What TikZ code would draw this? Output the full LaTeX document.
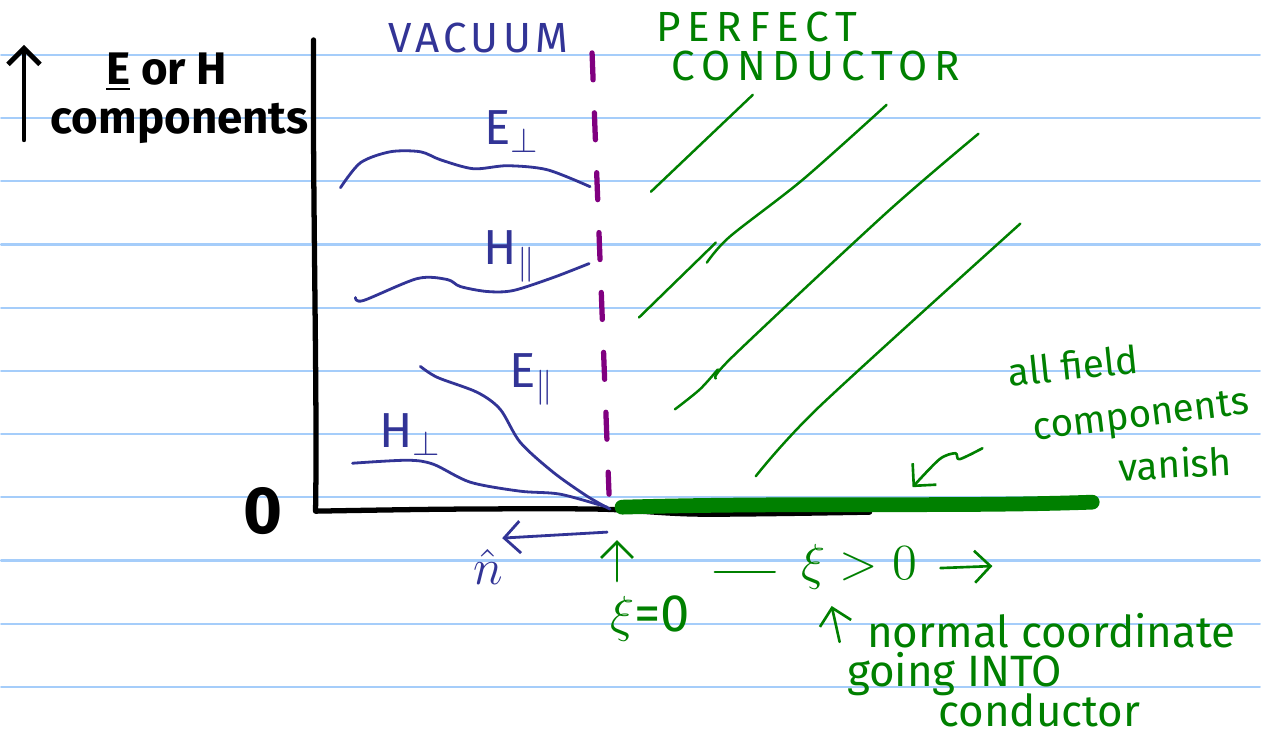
\documentclass[tikz,border=0pt]{standalone}
\usepackage{fontspec}
\setmainfont{Fira Sans}
\usetikzlibrary{arrows.meta,positioning,calc}
\definecolor{RuleBlue}{RGB}{165,205,250}
\definecolor{InkBlue}{RGB}{50,52,150}
\definecolor{InkGreen}{RGB}{0,128,0}
\definecolor{InkPurple}{RGB}{128,0,128}

\begin{document}
\begin{tikzpicture}[x=0.01cm, y=-0.01cm, line cap=round, line join=round,
    blueink/.style={InkBlue, line width=0.8pt},
    hatchline/.style={InkGreen, line width=0.7pt},
    bluetext/.style={InkBlue, inner sep=0pt, font=\fontsize{14}{16}\selectfont},
    greentext/.style={InkGreen, inner sep=0pt, font=\fontsize{12.5}{14}\selectfont},
    notetext/.style={InkGreen, inner sep=0pt, font=\fontsize{11}{13}\selectfont},
    capstext/.style={inner sep=0pt, font=\fontsize{12}{14}\selectfont\addfontfeature{LetterSpace=16}},
    barb/.style={-{Straight Barb[length=1.6mm,width=3.2mm]}}]
  % ruled paper
  \fill[white] (0,0) rectangle (1261,736);
  \foreach \k in {0,...,10}
    \draw[RuleBlue, line width=0.6pt] (0,{55+63.3*\k}) -- (1261,{55+63.3*\k});
  \useasboundingbox (0,0) rectangle (1261,736);

  % axes
  \coordinate (ytop) at (313,40);
  \coordinate (orig) at (315,512);
  \draw[line width=1.5pt] (ytop) .. controls (312,200) and (317,400) .. (orig)
    plot[smooth] coordinates {(orig) (450,510) (600,510) (700,515) (870,513)};
  \node[font=\fontsize{19}{21}\selectfont\bfseries, inner sep=0pt] (zero) at (262,512) {0};

  % axis label
  \node[inner sep=0pt, font=\fontsize{13}{15}\selectfont\bfseries] (eorh) at (166,72) {\underline{E} or H};
  \node[inner sep=0pt, font=\fontsize{13}{15}\selectfont\bfseries] (comps) at (179,124) {components};
  \coordinate (upbot) at (23,140);
  \coordinate (uptop) at (23,45);
  \draw[line width=1.4pt, barb] (upbot) -- (uptop);

  % region labels
  \node[capstext, InkBlue, font=\fontsize{12}{14}\selectfont\addfontfeature{LetterSpace=10}] (vacuum) at (478,38) {VACUUM};
  \node[capstext, InkGreen] (perfect) at (757,27) {PERFECT};
  \node[capstext, InkGreen] (conductor) at (816,66) {CONDUCTOR};

  % conductor surface and interface
  \draw[InkGreen, line width=4.2pt] (622,508) .. controls (800,503) and (950,508) .. (1093,503);
  \draw[InkPurple, line width=1.5pt, dash pattern=on 0.27cm off 0.33cm] (592,53) -- (609,495);

  % hatching of the conductor
  \draw[hatchline] (651,192) -- (753,95);
  \draw[hatchline] plot[smooth] coordinates {(707,263) (730,237) (803,180) (887,105)};
  \draw[hatchline] (639,318) -- (716,243);
  \draw[hatchline] plot[smooth] coordinates {(716,379) (733,357) (887,213) (979,134)};
  \draw[hatchline] plot[smooth] coordinates {(675,410) (700,390) (718,370)};
  \draw[hatchline] plot[smooth] coordinates {(756,477) (820,407) (1021,224)};

  % field components in the vacuum
  \draw[blueink] plot[smooth] coordinates {(340,188) (360,163) (390,152) (420,152) (440,160)
    (473,169) (507,166) (547,170) (590,187)};
  \draw[blueink] plot[smooth] coordinates {(355,298) (363,301) (417,279) (447,280) (460,287)
    (487,292) (513,291) (553,278) (589,264)};
  \draw[blueink] plot[smooth] coordinates {(420,367) (437,378) (477,393) (500,410) (520,443)
    (553,473) (587,497) (610,510)};
  \draw[blueink] plot[smooth] coordinates {(352,464) (407,461) (433,465) (470,483) (520,492)
    (560,495) (607,508)};
  \node[bluetext] (eperp) at (512,132) {E$_{\perp}$};
  \node[bluetext] (hpar) at (510,257) {H$_{\parallel}$};
  \node[bluetext] (epar) at (532,380) {E$_{\parallel}$};
  \node[bluetext] (hperp) at (410,435) {H$_{\perp}$};

  % normal vector
  \coordinate (ntail) at (607,533);
  \coordinate (nhead) at (502,539);
  \draw[blueink, barb] (ntail) -- (nhead);
  \node[bluetext] (nhat) at (488,568) {$\hat{n}$};

  % normal coordinate
  \coordinate (xitail) at (617,582);
  \coordinate (xihead) at (617,541);
  \draw[InkGreen, line width=0.75pt, barb] (xitail) -- (xihead);
  \node[greentext, font=\fontsize{15}{17}\selectfont] (xizero) at (650,620) {$\xi$=0};
  \node[greentext, font=\fontsize{15}{17}\selectfont] (xipos) at (860,568) {$\xi>0$};
  \coordinate (dashl) at (715,573);
  \coordinate (dashr) at (775,573);
  \draw[InkGreen, line width=0.75pt] (dashl) -- (dashr);
  \coordinate (posend) at (993,567);
  \draw[InkGreen, line width=0.75pt, barb] (941,569) -- (posend);

  \node[greentext] (normal) at (1052,632) {normal coordinate};
  \node[greentext] (going) at (955,675) {going INTO};
  \node[greentext] (condlow) at (1040,711) {conductor};
  \coordinate (ncbot) at (840,643);
  \coordinate (nctop) at (832,607);
  \draw[InkGreen, line width=0.75pt, barb] (ncbot) -- (nctop);

  % vanishing fields
  \node[notetext, rotate=6] (allfield) at (1074,366) {all field};
  \node[notetext, rotate=7] (compsv) at (1142,419) {components};
  \node[notetext, rotate=3] (vanish) at (1176,464) {vanish};
  \coordinate (sqtail) at (983,449);
  \coordinate (sqhead) at (913,488);
  \draw[InkGreen, line width=0.75pt, barb] plot[smooth] coordinates {(sqtail) (960,460) (956,454)
    (940,460) (sqhead)};
\end{tikzpicture}
\end{document}
